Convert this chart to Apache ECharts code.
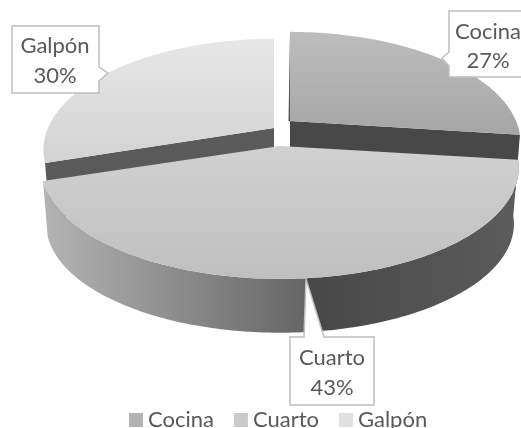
<!DOCTYPE html>
<html><head><meta charset="utf-8">
<style>html,body{margin:0;padding:0;background:#fff}#c{width:521px;height:428px}</style>
<script src="https://cdn.jsdelivr.net/npm/echarts@6/dist/echarts.min.js"></script>
</head><body><div id="c"></div>
<script>
const categories = ['Cocina', 'Cuarto', 'Galpón'];
const values = [27, 43, 30];

// layout / style
const center = [282, 132], rx = 234, ry = 106.7, persp = 0.197, drop = 56.5, bottomScale = 0.98;
const explode = [[8, -11], [-2, 14], [-8, -4]];
const widthScale = [0.966, 1, 0.966];
const topColors = [['#bdbdbd', '#a6a6a6'], ['#d1d1d1', '#bfbfbf'], ['#e7e7e7', '#d3d3d3']];
const cutColors = ['#484848', '#4a4a4a', '#5a5a5a'];
const swatch = ['#b3b3b3', '#cacaca', '#e0e0e0'];
const callouts = [
  {box: [[449, 11], [523, 11], [523, 77], [449, 77], [449, 66], [442, 58], [449, 52]], tx: 488, ty: [32, 61]},
  {box: [[290, 337], [304, 337], [306, 279], [324, 337], [374, 337], [374, 405], [290, 405]], tx: 332, ty: [358, 388]},
  {box: [[12, 26], [99, 26], [99, 67], [108, 73], [99, 81], [99, 93], [12, 93]], tx: 55, ty: [46, 76]}
];
const fontFamily = 'Lato', textColor = '#595959', fontSize = 22;

const total = values.reduce((a, b) => a + b, 0);
const grad = (c, x, y) => new echarts.graphic.LinearGradient(0, 0, x, y, c.map((col, i) => ({offset: i / (c.length - 1), color: col})));

function renderSlice(index) {
  return function () {
    const before = values.slice(0, index).reduce((a, b) => a + b, 0);
    const a0 = before / total * Math.PI * 2, a1 = (before + values[index]) / total * Math.PI * 2;
    const ax = center[0] + explode[index][0], ay = center[1] + explode[index][1];
    const rxs = rx * widthScale[index];
    const top = t => {
      const u = Math.sin(t), v = -Math.cos(t), s = 1 / (1 - persp * v);
      return [ax + u * rxs * s, ay + v * ry * s];
    };
    const bottom = p => [ax + (p[0] - ax) * bottomScale, ay + drop + (p[1] - ay) * bottomScale];
    const rim = [];
    for (let i = 0; i <= 160; i++) rim.push(top(a0 + (a1 - a0) * i / 160));
    const children = [];
    const apex = [ax, ay];
    if (index === 1) {
      const wall = rim.concat(rim.map(bottom).reverse());
      children.push({type: 'polygon', shape: {points: wall}, style: {
        fill: new echarts.graphic.LinearGradient(0, 0, 1, 0, [
          {offset: 0, color: '#b4b4b4'}, {offset: 0.55, color: '#666666'},
          {offset: 0.55, color: '#474747'}, {offset: 1, color: '#5c5c5c'}])
      }});
    } else {
      const edge = index === 0 ? a1 : a0;
      const p = top(edge);
      children.push({type: 'polygon', shape: {points: [apex, p, bottom(p), bottom(apex)]}, style: {fill: cutColors[index]}});
    }
    if (index === 0) {
      const p = top(a0);
      children.push({type: 'polygon', shape: {points: [p, apex, [ax - 1.5, ay]]}, style: {fill: '#555555'}});
    }
    children.push({type: 'polygon', shape: {points: [apex].concat(rim)}, style: {fill: grad(topColors[index], 0, 1)}});
    const c = callouts[index];
    children.push({type: 'polygon', shape: {points: c.box}, style: {fill: '#ffffff', stroke: '#bfbfbf', lineWidth: 1.5}});
    [categories[index], Math.round(values[index] / total * 100) + '%'].forEach((t, i) => {
      children.push({type: 'text', style: {text: t, x: c.tx, y: c.ty[i], fill: textColor,
        font: fontSize + 'px ' + fontFamily, align: 'center', verticalAlign: 'middle'}});
    });
    return {type: 'group', children};
  };
}

const chart = echarts.init(document.getElementById('c'), null, {renderer: 'canvas'});
const drawZ = [1, 3, 2];
chart.setOption({
  animation: false,
  backgroundColor: '#ffffff',
  legend: {
    data: categories.map((name, i) => ({name, icon: 'rect', itemStyle: {color: swatch[i], borderWidth: 0}})),
    left: 129, top: 409, padding: 0, itemWidth: 14, itemHeight: 14, itemGap: 20,
    selectedMode: false,
    textStyle: {fontFamily, fontSize, color: textColor}
  },
  series: categories.map((name, i) => ({
    type: 'custom', name, coordinateSystem: 'none', z: drawZ[i], silent: true,
    itemStyle: {color: swatch[i]},
    data: [values[i]], renderItem: renderSlice(i)
  }))
});
</script></body></html>
